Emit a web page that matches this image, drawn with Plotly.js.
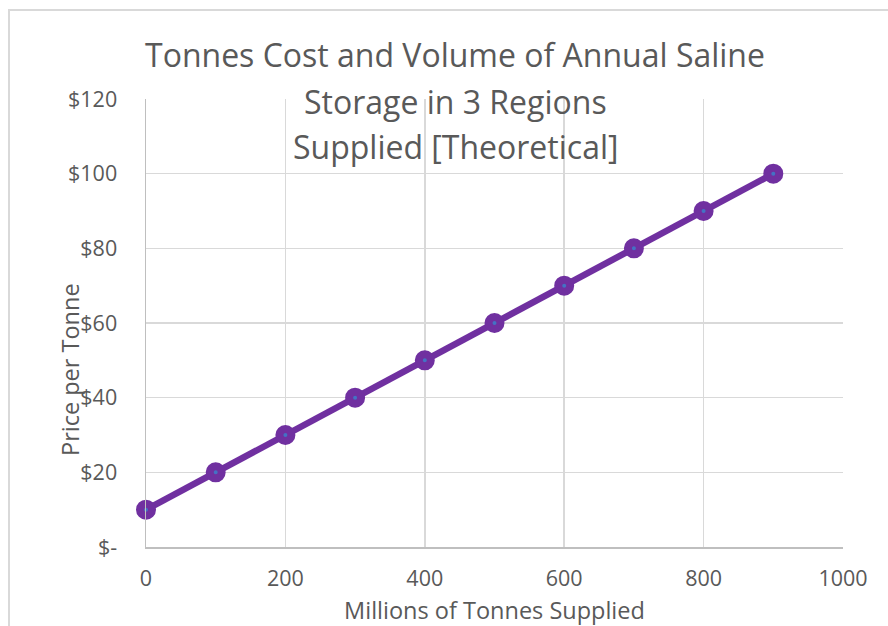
<!DOCTYPE html>
<html>
<head>
<meta charset="utf-8">
<script src="https://cdn.plot.ly/plotly-3.0.1.min.js"></script>
<style>
  html, body { margin: 0; padding: 0; background: #ffffff; }
  #frame { position: absolute; left: 8px; top: 9px; width: 920px; height: 700px;
           border: 2px solid #d9d9d9; box-sizing: border-box; }
  #chart { position: absolute; left: 0; top: 0; width: 888px; height: 626px; }
</style>
</head>
<body>
<div id="frame"></div>
<div id="chart"></div>
<script>
// Supply volume (millions of tonnes) and price per tonne (USD)
const volumeSupplied = [0, 100, 200, 300, 400, 500, 600, 700, 800, 900];
const pricePerTonne  = [10, 20, 30, 40, 50, 60, 70, 80, 90, 100];

const yTickValues = [0, 20, 40, 60, 80, 100, 120];
const yTickLabels = ['$-', '$20', '$40', '$60', '$80', '$100', '$120'];
const xTickValues = [0, 200, 400, 600, 800, 1000];
const xTickLabels = ['0', '200', '400', '600', '800', '1000'];

const titleLines = [
  'Tonnes Cost and Volume of Annual Saline',
  'Storage in 3 Regions',
  'Supplied [Theoretical]'
];

const textGrey = '#595959';
const fontFamily = '"Open Sans", "Noto Sans", sans-serif';

// plot-area geometry in pixels, used to place the free-standing labels
const W = 888, H = 626;
const M = { l: 146, r: 45, t: 99, b: 79 };
const plotW = W - M.l - M.r, plotH = H - M.t - M.b;
const px2x = px => (px - M.l) / plotW;
const py2y = py => (H - M.b - py) / plotH;

const trace = {
  x: volumeSupplied,
  y: pricePerTonne,
  type: 'scatter',
  mode: 'lines+markers',
  line: { color: '#7030A0', width: 6.5 },
  marker: { size: 12, color: '#4472C4', line: { color: '#7030A0', width: 8 } },
  cliponaxis: false
};

// three centred title lines
const titleAnnotations = titleLines.map((line, i) => ({
  text: line,
  xref: 'paper', yref: 'paper',
  x: px2x(455), y: py2y(55 + i * 46),
  xanchor: 'center', yanchor: 'middle',
  showarrow: false,
  font: { family: fontFamily, size: 32, color: textGrey }
}));

const layout = {
  width: W,
  height: H,
  margin: M,
  paper_bgcolor: 'rgba(0,0,0,0)',
  plot_bgcolor: 'rgba(0,0,0,0)',
  showlegend: false,
  font: { family: fontFamily, color: textGrey },
  xaxis: {
    range: [0, 1000],
    tickvals: xTickValues,
    ticktext: xTickLabels,
    tickfont: { size: 21.5, color: textGrey },
    ticks: '',
    ticklabelstandoff: 12,
    showgrid: true,
    gridcolor: '#d9d9d9',
    gridwidth: 1.5,
    showline: true,
    linecolor: '#bfbfbf',
    linewidth: 1.5,
    zeroline: false,
    title: {
      text: 'Millions of Tonnes Supplied',
      font: { size: 23.5, color: textGrey },
      standoff: 13
    }
  },
  yaxis: {
    range: [0, 120],
    tickvals: yTickValues,
    ticktext: yTickLabels,
    tickfont: { size: 21.5, color: textGrey },
    ticks: '',
    ticklabelstandoff: 23,
    showgrid: true,
    gridcolor: '#d9d9d9',
    gridwidth: 1.5,
    showline: true,
    linecolor: '#bfbfbf',
    linewidth: 1.5,
    zeroline: false
  },
  annotations: titleAnnotations.concat([{
    text: 'Price per Tonne',
    xref: 'paper', yref: 'paper',
    x: px2x(70), y: py2y(370),
    xanchor: 'center', yanchor: 'middle',
    textangle: -90,
    showarrow: false,
    font: { family: fontFamily, size: 23.5, color: textGrey }
  }])
};

Plotly.newPlot('chart', [trace], layout, { displayModeBar: false, staticPlot: true });
</script>
</body>
</html>
